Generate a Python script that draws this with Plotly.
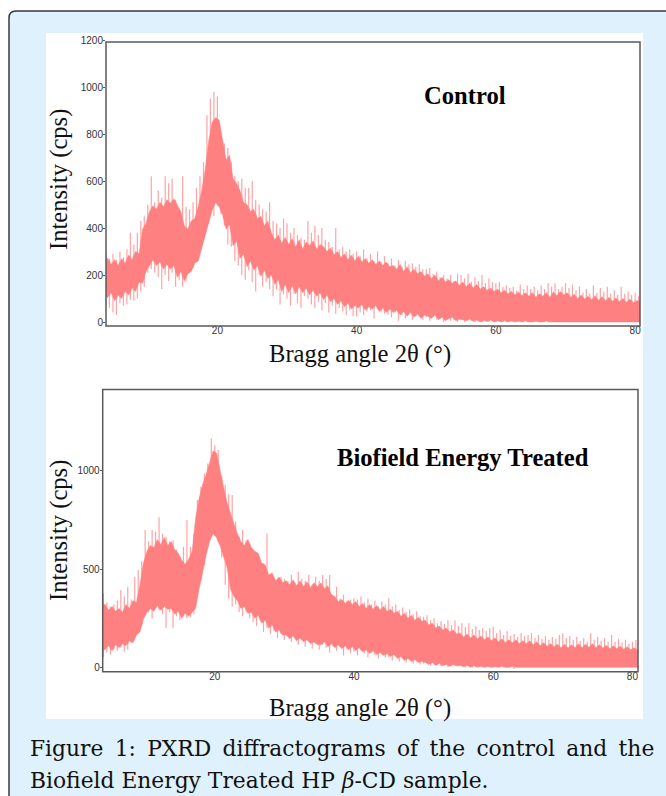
import numpy as np
import plotly.graph_objects as go

W, H = 666, 796

# ---------- data ----------
spike_step = 0.5
control_hi = [300,270,290,265,300,275,310,380,330,380,430,450,
 500,620,510,560,530,620,590,610,520,480, 620,490,480,510,570,620,680,880,950,980,
 960,800,760,740,680,620,600,610,570,570, 600,520,500,480,470,510,430,420,400,440,
 420,380,400,370,360,350,430,380,410,370, 400,350,340,320,400,310,320,300,310,290,
 300,280,310,270,290,260,300,255,280,250, 270,240,265,235,260,245,250,235,245,225,
 225,230,205,215,190,200,185,200,175,205, 200,185,205,170,190,175,200,165,185,170,
 165,170,150,155,145,150,135,160,140,155, 140,150,135,155,140,165,150,165,140,150,
 165,145,160,135,150,125,140,120,155,125, 145,130,150,120,135,115,150,120,130,115,125,110]
control_lo = [70,60,40,30,80,70,75,95,90,100,130,150,
 210,225,210,190,140,200,175,210,150,180, 150,170,210,230,260,300,400,440,480,450,
 495,460,410,330,320,260,240,200,180,220, 170,130,200,150,170,140,110,140,75,120,
 100,70,120,80,60,110,100,75,60,85, 50,80,40,70,35,60,45,30,50,25,
 25,40,30,45,50,15,55,40,35,30, 20,40,5,30,15,35,10,25,30,10,
 20,5,25,10,15,0,20,5,10,0, 10,0,15,5,0,10,0,5,0,10,
 0,5,0,0,10,0,0,5,0,0, 0,0,5,0,0,0,5,0,0,0,
 0,0,0,5,0,0,0,0,5,0, 0,0,0,0,0,5,0,0,0,0,0,0]
control_core_hi = [270,245,265,240,270,250,285,265,300,290,395,420,
 470,495,480,510,490,520,505,525,495,470, 410,395,430,440,490,560,650,770,850,870,
 860,780,690,710,610,590,560,510,500,470, 480,440,450,410,430,380,350,370,335,360,
 330,355,320,350,310,340,325,345,310,330, 320,300,315,285,300,275,290,265,285,260,
 280,255,270,250,265,245,260,240,255,235, 240,225,245,215,235,210,225,205,215,195,
 205,185,200,175,190,170,180,165,175,155, 170,150,165,145,160,140,150,135,145,130,
 140,125,135,120,130,115,128,112,125,110, 125,105,120,110,125,105,128,112,130,115,
 125,105,118,100,115,98,110,95,112,92, 108,90,105,88,102,86,100,84,98,82,92,85]
control_core_lo = [105,125,90,115,100,130,115,145,130,170,165,215,
 240,265,240,255,225,245,225,240,190,215, 175,205,215,250,260,310,360,420,475,510,
 490,455,395,415,325,345,270,290,235,260, 220,240,195,220,185,200,160,180,130,160,
 125,155,120,150,125,145,115,135,110,125, 95,115,85,100,75,90,65,80,55,70,
 60,75,50,65,55,70,45,60,40,55, 40,50,30,45,25,40,20,35,15,30,
 25,15,30,10,20,5,15,20,5,12, 10,5,12,3,8,0,6,2,8,0,
 5,0,6,0,4,0,3,0,5,0, 0,3,0,0,4,0,0,2,0,0,
 0,0,0,0,0,0,0,0,0,0, 0,0,0,0,0,0,0,0,0,0,0,0]

treated_hi = [376,330,308,320,340,393,360,410,345,460,495,540,
 698,640,698,690,763,680,664,640,647,600, 563,613,749,613,680,851,918,986,1037,1164,
 1130,1105,970,927,880,876,740,664,698,647, 630,600,570,540,530,681,461,450,440,461,
 450,440,470,430,486,450,440,470,420,461, 440,470,450,470,360,410,350,370,340,345,
 351,345,360,330,350,320,340,310,335,320, 351,310,320,290,305,280,295,270,285,260,
 258,265,240,250,225,235,220,240,215,240, 210,225,205,224,195,210,190,200,185,200,
 207,175,190,165,185,160,170,155,175,160, 165,173,150,165,145,160,140,155,145,165,
 173,150,160,140,155,135,150,130,173,140, 155,135,150,130,164,130,145,125,140,120,130,139]
treated_lo = [50,75,65,90,85,100,80,90,125,150,190,210,
 290,280,250,300,290,270,200,280,200,260, 240,260,250,255,270,380,440,520,610,700,
 670,640,560,420,350,310,320,280,260,280, 250,230,210,240,180,200,170,185,150,170,
 140,160,130,150,115,145,105,135,95,120, 90,115,100,75,120,85,105,60,90,70,
 80,60,85,70,50,75,60,45,65,50, 50,35,60,30,45,25,40,20,35,15,
 20,30,10,25,15,5,20,0,15,10, 5,15,0,10,0,5,10,0,5,0,
 0,5,0,0,10,0,-8,0,5,0, 0,0,5,0,0,0,0,5,0,0,
 0,0,0,5,0,0,0,0,5,0, 0,0,0,0,0,5,0,0,0,0,0,0]
treated_core_hi = [320,290,310,285,300,280,320,300,340,330,420,530,
 590,620,610,650,625,660,620,640,600,580, 545,525,550,590,760,860,930,980,1040,1100,
 1090,1000,920,840,780,730,680,640,620,650, 610,590,580,530,520,470,480,440,460,430,
 440,420,445,415,440,410,435,405,430,410, 430,400,415,370,360,335,345,325,340,320,
 335,310,325,300,320,295,315,290,310,285, 295,275,285,260,275,250,265,240,255,235,
 240,215,225,200,210,190,200,180,190,170, 175,155,170,150,165,145,160,140,155,135,
 150,130,145,125,140,125,140,120,135,120, 135,115,130,110,125,108,120,105,118,100,
 118,98,115,100,120,100,118,102,120,100, 115,98,112,95,110,95,108,92,105,90,100,88]
treated_core_lo = [90,110,85,115,100,120,110,135,125,165,180,245,
 280,300,285,315,290,310,295,300,270,285, 250,275,260,280,300,400,480,570,640,680,
 660,620,570,510,400,360,340,300,310,275, 280,250,265,225,240,200,215,180,190,165,
 165,145,160,135,150,130,140,120,130,115, 115,130,105,120,100,115,95,110,90,105,
 85,100,80,90,70,85,65,75,60,70, 55,65,45,55,35,45,30,40,25,30,
 25,15,25,10,20,8,15,5,15,8, 10,3,10,0,8,0,6,0,5,0,
 3,0,6,0,0,4,0,0,3,0, 0,3,0,0,2,0,0,3,0,0,
 0,0,0,0,0,0,0,0,0,0, 0,0,0,0,0,0,0,0,0,0,0,0]

x_ticks_major = [20, 40, 60, 80]
control_y_ticks = [0, 200, 400, 600, 800, 1000, 1200]
treated_y_ticks = [0, 500, 1000]

title_control = "Control"
title_treated = "Biofield Energy Treated"
x_title = "Bragg angle 2θ (°)"
y_title = "Intensity (cps)"
caption_1 = "Figure 1: PXRD diffractograms of the control and the"
caption_2 = "Biofield Energy Treated HP <i>β</i>-CD sample."

CORE = "#ff8080"
SPIKE = "#ffa3a3"
PANEL = "#dff1fc"
FRAME = "#5a5a5a"
SERIF = "Liberation Serif"
SANS = "Liberation Sans"


def px(v):
    return v / W


def py(v):
    return 1 - v / H


fig = go.Figure()


def add_panel(hi, lo, chi, clo, xa, ya):
    xv = (4 + spike_step * np.arange(len(hi))).tolist()
    sx, sy = [], []
    for x, a, b in zip(xv, hi, lo):
        sx += [x, x, None]
        sy += [b, a, None]
    fig.add_trace(go.Scatter(x=sx, y=sy, mode="lines", xaxis=xa, yaxis=ya,
                             line=dict(color=SPIKE, width=1.2), hoverinfo="skip", showlegend=False))
    cx = [3.8] + [x + spike_step / 2 for x in xv]
    chi2 = [chi[0]] + chi
    clo2 = [clo[0]] + clo
    fig.add_trace(go.Scatter(x=cx + cx[::-1], y=chi2 + clo2[::-1], mode="lines", fill="toself",
                             xaxis=xa, yaxis=ya, fillcolor=CORE,
                             line=dict(color=CORE, width=0.5), hoverinfo="skip", showlegend=False))


add_panel(control_hi, control_lo, control_core_hi, control_core_lo, "x", "y")
add_panel(treated_hi, treated_lo, treated_core_hi, treated_core_lo, "x2", "y2")

tickfont = dict(family=SANS, size=10, color="#333333")
xcommon = dict(tickvals=x_ticks_major, tickfont=tickfont, ticks="", ticklabelstandoff=-3,
               showgrid=False, zeroline=False, showline=False, automargin=False)
ycommon = dict(tickfont=tickfont, ticks="outside", ticklen=2, tickcolor=FRAME, ticklabelstandoff=-2,
               showgrid=False, zeroline=False, showline=False, automargin=False)

fig.update_layout(
    width=W, height=H, margin=dict(l=0, r=0, t=0, b=0, pad=0, autoexpand=False),
    paper_bgcolor="white", plot_bgcolor="rgba(0,0,0,0)", showlegend=False,
    xaxis=dict(domain=[px(106), px(640)], range=[4.0, 80.7], anchor="y", **xcommon),
    yaxis=dict(domain=[py(326), py(40)], range=[-17, 1200], anchor="x", tickvals=control_y_ticks, **ycommon),
    xaxis2=dict(domain=[px(102.7), px(638)], range=[3.9, 80.8], anchor="y2", **xcommon),
    yaxis2=dict(domain=[py(671.7), py(389.5)], range=[-22, 1413], anchor="x2", tickvals=treated_y_ticks, **ycommon),
)

shapes = [
    dict(type="path", xref="paper", yref="paper", layer="below",
         path=f"M {px(9)} {py(810)} L {px(9)} {py(18)} Q {px(9)} {py(11)} {px(16)} {py(11)} L {px(680)} {py(11)} L {px(680)} {py(810)} Z",
         fillcolor=PANEL, line=dict(color="#3a3a3a", width=1.5)),
    dict(type="rect", xref="paper", yref="paper", layer="below",
         x0=px(46), x1=px(643), y0=py(719), y1=py(33), fillcolor="white", line=dict(width=0)),
    dict(type="rect", xref="paper", yref="paper", layer="above",
         x0=px(106), x1=px(640), y0=py(326), y1=py(42), fillcolor="rgba(0,0,0,0)", line=dict(color=FRAME, width=1.5)),
    dict(type="rect", xref="paper", yref="paper", layer="above",
         x0=px(102.7), x1=px(638), y0=py(671.7), y1=py(389.5), fillcolor="rgba(0,0,0,0)", line=dict(color=FRAME, width=1.5)),
]


def note(text, x, y, size, family=SERIF, color="#111111", angle=0, anchor="center"):
    return dict(text=text, x=px(x), y=py(y), xref="paper", yref="paper", showarrow=False, textangle=angle,
                xanchor=anchor, yanchor="middle", font=dict(family=family, size=size, color=color))


annotations = [
    note(f"<b>{title_control}</b>", 465, 96, 24.6, color="black"),
    note(f"<b>{title_treated}</b>", 463, 457, 24.6, color="black"),
    note(x_title, 360, 354, 24.6),
    note(x_title, 360, 708, 24.6),
    note(y_title, 59, 180, 24.6, angle=-90),
    note(y_title, 59, 531, 24.6, angle=-90),
    note(caption_1.replace(" ", " \u2009"), 28, 748, 21.8, family="DejaVu Serif", anchor="left"),
    note(caption_2, 28, 780, 21.8, family="DejaVu Serif", anchor="left"),
]
fig.update_layout(shapes=shapes, annotations=annotations)

fig.write_html("out.html", post_script="document.body.style.margin='0';document.body.style.overflow='hidden';",
               config=dict(displayModeBar=False))
